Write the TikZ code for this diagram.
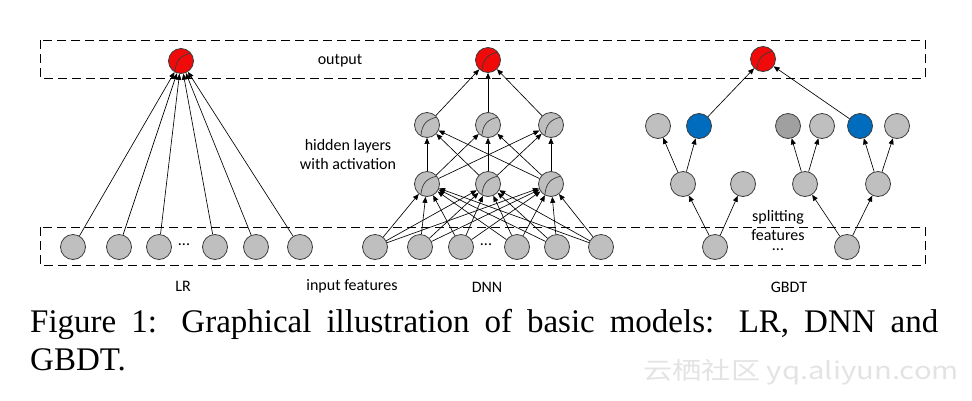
\documentclass[tikz,border=0pt]{standalone}
\usepackage{fontspec}
\setmainfont{Liberation Serif}
\newfontfamily\labelfont{Carlito}
\newfontfamily\cjkfont{Noto Sans CJK SC}
\usetikzlibrary{arrows.meta}

\definecolor{unitgray}{RGB}{191,191,191}
\definecolor{leafdark}{RGB}{160,160,160}
\definecolor{outred}{RGB}{240,10,10}
\definecolor{leafblue}{RGB}{0,108,190}
\definecolor{rimgray}{RGB}{60,60,60}

\begin{document}
\begin{tikzpicture}[
  x=1pt, y=-1pt,
  unit/.style={circle, draw=rimgray, line width=0.8pt, fill=unitgray,
               minimum size=25pt, inner sep=0pt},
  actunit/.style={unit, path picture={
      \draw[line width=0.7pt]
        ([shift={(-6,10)}]path picture bounding box.center)
        .. controls ([shift={(-5,0)}]path picture bounding box.center)
        and ([shift={(-1,-6)}]path picture bounding box.center)
        .. ([shift={(11,-8)}]path picture bounding box.center);}},
  outunit/.style={actunit, fill=outred},
  blueleaf/.style={unit, fill=leafblue},
  darkleaf/.style={unit, fill=leafdark},
  lbl/.style={font=\labelfont\fontsize{16}{19}\selectfont, align=center},
  arrow/.style={-{Triangle[length=6pt,width=5pt]}, line width=0.65pt},
  dashbox/.style={dash pattern=on 9pt off 5pt, line width=0.8pt}
]
  \useasboundingbox (0,0) rectangle (972,400);

  \draw[dashbox] (40,40) rectangle (925,78);
  \draw[dashbox] (40,227) rectangle (925,265);

  % LR
  \node[outunit] (lro) at (181,61) {};
  \node[unit] (lx1) at (73,247)  {};
  \node[unit] (lx2) at (119,247) {};
  \node[unit] (lx3) at (159,247) {};
  \node[lbl]  (ldots) at (184,245) {...};
  \node[unit] (lx4) at (215,247) {};
  \node[unit] (lx5) at (256,247) {};
  \node[unit] (lx6) at (300,247) {};

  \draw[arrow] (lx1) -- (lro);
  \draw[arrow] (lx2) -- (lro);
  \draw[arrow] (lx3) -- (lro);
  \draw[arrow] (lx4) -- (lro);
  \draw[arrow] (lx5) -- (lro);
  \draw[arrow] (lx6) -- (lro);

  % DNN
  \node[outunit] (dno) at (488,60) {};
  \node[actunit] (dh21) at (427,125) {};
  \node[actunit] (dh22) at (488,125) {};
  \node[actunit] (dh23) at (551,125) {};
  \node[actunit] (dh11) at (427,184) {};
  \node[actunit] (dh12) at (488,184) {};
  \node[actunit] (dh13) at (551,184) {};
  \node[unit] (dx1) at (375,247) {};
  \node[unit] (dx2) at (420,247) {};
  \node[unit] (dx3) at (461,247) {};
  \node[lbl]  (ddots) at (486,245) {...};
  \node[unit] (dx4) at (517,247) {};
  \node[unit] (dx5) at (557,247) {};
  \node[unit] (dx6) at (601,247) {};

  \draw[arrow] (dx1) -- (dh11); \draw[arrow] (dx1) -- (dh12); \draw[arrow] (dx1) -- (dh13);
  \draw[arrow] (dx2) -- (dh11); \draw[arrow] (dx2) -- (dh12); \draw[arrow] (dx2) -- (dh13);
  \draw[arrow] (dx3) -- (dh11); \draw[arrow] (dx3) -- (dh12); \draw[arrow] (dx3) -- (dh13);
  \draw[arrow] (dx4) -- (dh11); \draw[arrow] (dx4) -- (dh12); \draw[arrow] (dx4) -- (dh13);
  \draw[arrow] (dx5) -- (dh11); \draw[arrow] (dx5) -- (dh12); \draw[arrow] (dx5) -- (dh13);
  \draw[arrow] (dx6) -- (dh11); \draw[arrow] (dx6) -- (dh12); \draw[arrow] (dx6) -- (dh13);

  \draw[arrow] (dh11) -- (dh21); \draw[arrow] (dh11) -- (dh22); \draw[arrow] (dh11) -- (dh23);
  \draw[arrow] (dh12) -- (dh21); \draw[arrow] (dh12) -- (dh22); \draw[arrow] (dh12) -- (dh23);
  \draw[arrow] (dh13) -- (dh21); \draw[arrow] (dh13) -- (dh22); \draw[arrow] (dh13) -- (dh23);

  \draw[arrow] (dh21) -- (dno);
  \draw[arrow] (dh22) -- (dno);
  \draw[arrow] (dh23) -- (dno);

  % GBDT
  \node[outunit]  (go)  at (763,59)  {};
  \node[unit]     (ga1) at (658,126) {};
  \node[blueleaf] (ga2) at (699,126) {};
  \node[darkleaf] (gb1) at (788,126) {};
  \node[unit]     (gb2) at (822,126) {};
  \node[blueleaf] (gb3) at (860,126) {};
  \node[unit]     (gb4) at (897,126) {};
  \node[unit] (gm1) at (683,184) {};
  \node[unit] (gm2) at (743,184) {};
  \node[unit] (gm3) at (805,184) {};
  \node[unit] (gm4) at (878,184) {};
  \node[unit] (gr1) at (715,247) {};
  \node[unit] (gr2) at (847,247) {};

  \draw[arrow] (gr1) -- (gm1);
  \draw[arrow] (gr1) -- (gm2);
  \draw[arrow] (gm1) -- (ga1);
  \draw[arrow] (gm1) -- (ga2);
  \draw[arrow] (ga2) -- (go);
  \draw[arrow] (gr2) -- (gm3);
  \draw[arrow] (gr2) -- (gm4);
  \draw[arrow] (gm3) -- (gb1);
  \draw[arrow] (gm3) -- (gb2);
  \draw[arrow] (gm4) -- (gb3);
  \draw[arrow] (gm4) -- (gb4);
  \draw[arrow] (gb3) -- (go);

  % labels
  \node[lbl] (outlbl)   at (340,61)  {output};
  \node[lbl] (hidlbl)   at (348,154) {hidden layers\\with activation};
  \node[lbl] (lrlbl)    at (183,286) {LR};
  \node[lbl] (inlbl)    at (352,286) {input features};
  \node[lbl] (dnnlbl)   at (487,287) {DNN};
  \node[lbl] (gbdtlbl)  at (789,287) {GBDT};
  \node[lbl] (splitlbl) at (778,231) {splitting\\features\\[-9pt]...};

  % caption
  \node[anchor=base west, inner sep=0pt, font=\fontsize{33}{38}\selectfont] (cap1) at (30,332)
    {\makebox[908pt][s]{Figure 1: Graphical illustration of basic models: LR, DNN and}};
  \node[anchor=base west, inner sep=0pt, font=\fontsize{33}{38}\selectfont] (cap2) at (30,370) {GBDT.};
  \node[anchor=base west, inner sep=0pt, text=gray!22, font=\cjkfont\fontsize{24}{24}\selectfont] (wmark) at (643,379)
    {\scalebox{1.22}[1]{云栖社区 yq.aliyun.com}};
\end{tikzpicture}
\end{document}
